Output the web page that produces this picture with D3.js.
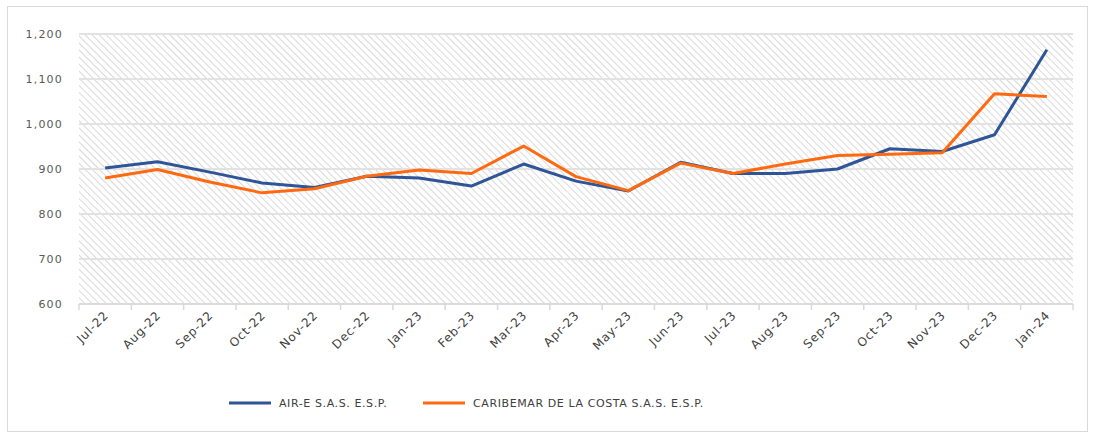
<!DOCTYPE html>
<html>
<head>
<meta charset="utf-8">
<script src="https://cdn.jsdelivr.net/npm/d3@7"></script>
<style>
body { margin: 0; background: #fff; }
text { font-family: "DejaVu Sans", Verdana, sans-serif; }
</style>
</head>
<body>
<svg id="chart" width="1093" height="436"></svg>
<script>
var months = ['Jul-22', 'Aug-22', 'Sep-22', 'Oct-22', 'Nov-22', 'Dec-22', 'Jan-23', 'Feb-23', 'Mar-23', 'Apr-23',
    'May-23', 'Jun-23', 'Jul-23', 'Aug-23', 'Sep-23', 'Oct-23', 'Nov-23', 'Dec-23', 'Jan-24'];
var aire = [902, 916, 893, 869, 859, 884, 880, 862, 911, 873, 851, 915, 890, 890, 900, 945, 939, 976, 1165];
var caribemar = [880, 899, 871, 847, 856, 884, 898, 890, 951, 883, 852, 913, 890, 911, 930, 933, 936, 1067, 1061];
var yTicks = [600, 700, 800, 900, 1000, 1100, 1200];
var seriesNames = ['AIR-E S.A.S. E.S.P.', 'CARIBEMAR DE LA COSTA S.A.S. E.S.P.'];
var colors = ['#2f5597', '#ff6a10'];

var svg = d3.select('#chart');
var margin = { left: 79, right: 20, top: 34, bottom: 132 };
var W = 1093, H = 436;
var x = d3.scaleBand().domain(months).range([margin.left, W - margin.right]);
var y = d3.scaleLinear().domain([600, 1200]).range([H - margin.bottom, margin.top]);

// outer frame
svg.append('rect').attr('x', 7.5).attr('y', 6.5).attr('width', W - 13).attr('height', H - 11)
    .attr('fill', '#fff').attr('stroke', '#d9d9d9').attr('stroke-width', 1);

// hatch pattern (lines running top-left to bottom-right)
var defs = svg.append('defs');
var pat = defs.append('pattern').attr('id', 'hatch').attr('patternUnits', 'userSpaceOnUse')
    .attr('width', 5).attr('height', 5).attr('patternTransform', 'rotate(-45)');
pat.append('line').attr('x1', 0).attr('y1', 0).attr('x2', 0).attr('y2', 5)
    .attr('stroke', '#c8c8c8').attr('stroke-width', 1.4);

svg.append('rect').attr('x', margin.left).attr('y', y(1200))
    .attr('width', W - margin.right - margin.left).attr('height', y(600) - y(1200))
    .attr('fill', 'url(#hatch)');

// gridlines
svg.append('g').selectAll('line').data(yTicks).join('line')
    .attr('x1', margin.left).attr('x2', W - margin.right)
    .attr('y1', d => y(d)).attr('y2', d => y(d))
    .attr('stroke', '#e2e2e2').attr('stroke-width', 2);

// y labels
svg.append('g').selectAll('text').data(yTicks).join('text')
    .attr('x', 63).attr('y', d => y(d) + 4)
    .attr('text-anchor', 'end').attr('font-size', 11).attr('letter-spacing', 1.2)
    .attr('fill', '#595959')
    .text(d => d3.format(',')(d));

// x axis
var xa = svg.append('g');
xa.append('line').attr('x1', margin.left).attr('x2', W - margin.right)
    .attr('y1', y(600)).attr('y2', y(600)).attr('stroke', '#d9d9d9').attr('stroke-width', 1.5);
var edges = months.map(m => x(m)).concat([W - margin.right]);
xa.selectAll('.tk').data(edges).join('line').attr('class', 'tk')
    .attr('x1', d => d).attr('x2', d => d).attr('y1', y(600)).attr('y2', y(600) + 6)
    .attr('stroke', '#d9d9d9').attr('stroke-width', 1.5);
xa.selectAll('text').data(months).join('text')
    .attr('transform', d => 'translate(' + (x(d) + x.bandwidth() / 2 + 4) + ',' + (y(600) + 12) + ') rotate(-45)')
    .attr('text-anchor', 'end').attr('font-size', 12).attr('letter-spacing', 0.8)
    .attr('fill', '#404040')
    .text(d => d);

// lines
var line = d3.line().x((d, i) => x(months[i]) + x.bandwidth() / 2).y(d => y(d));
[aire, caribemar].forEach((s, i) => {
    svg.append('path').datum(s).attr('d', line)
        .attr('fill', 'none').attr('stroke', colors[i]).attr('stroke-width', 3)
        .attr('stroke-linejoin', 'round');
});

// legend
var legX = [229, 423];
seriesNames.forEach((n, i) => {
    svg.append('line').attr('x1', legX[i]).attr('x2', legX[i] + 42).attr('y1', 403).attr('y2', 403)
        .attr('stroke', colors[i]).attr('stroke-width', 3);
    svg.append('text').attr('x', legX[i] + 50).attr('y', 407)
        .attr('font-size', 11).attr('letter-spacing', 0.6).attr('fill', '#404040').text(n);
});
</script>
</body>
</html>
